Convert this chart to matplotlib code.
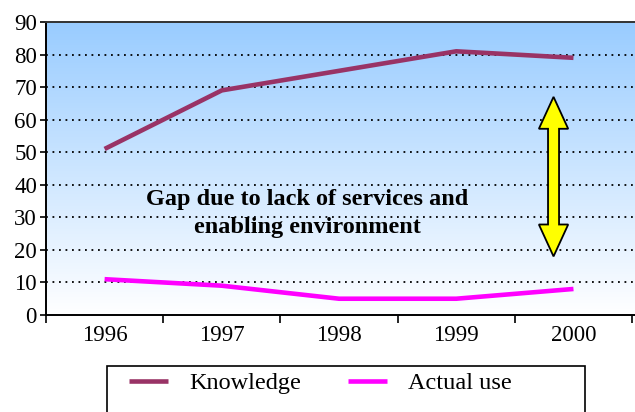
import numpy as np
import matplotlib
matplotlib.use('Agg')
import matplotlib.pyplot as plt
from matplotlib.colors import LinearSegmentedColormap
from matplotlib.patches import Polygon, Rectangle

# Data
years = ['1996', '1997', '1998', '1999', '2000']
knowledge = [51, 69, 75, 81, 79]
actual_use = [11, 9, 5, 5, 8]
y_ticks = list(range(0, 100, 10))

gap_text = 'Gap due to lack of services and\nenabling environment'
arrow_x = 3.83
arrow_top = 67
arrow_bottom = 18

plt.rcParams['font.family'] = ['Liberation Serif', 'DejaVu Serif']
plt.rcParams['font.size'] = 16.5

fig = plt.figure(figsize=(6.35, 4.12), dpi=100)
ax = fig.add_axes([46 / 635, 1 - 315 / 412, 1 - 46 / 635, (315 - 22) / 412])

x = np.arange(len(years))
x_max = 4.525

# Gradient background, blue on top fading to white
cmap = LinearSegmentedColormap.from_list('bg', ['#FFFFFF', '#99CCFF'])
grad = np.linspace(0, 1, 256).reshape(-1, 1)
ax.imshow(grad, extent=(-0.5, x_max, 0, 90), origin='lower', aspect='auto',
          cmap=cmap, zorder=0)

# Dotted gridlines
for yv in y_ticks[1:-1]:
    ax.axhline(yv, color='black', linestyle=(0, (1, 2.6)), linewidth=1.3, zorder=1)

ax.plot(x, knowledge, color='#993366', linewidth=3.3, label='Knowledge', zorder=3,
        solid_capstyle='butt')
ax.plot(x, actual_use, color='#FF00FF', linewidth=3.3, label='Actual use', zorder=3,
        solid_capstyle='butt')

# Double-headed yellow arrow
hw, sw, hl = 0.125, 0.047, 9.8
verts = [
    (arrow_x, arrow_top),
    (arrow_x + hw, arrow_top - hl),
    (arrow_x + sw, arrow_top - hl),
    (arrow_x + sw, arrow_bottom + hl),
    (arrow_x + hw, arrow_bottom + hl),
    (arrow_x, arrow_bottom),
    (arrow_x - hw, arrow_bottom + hl),
    (arrow_x - sw, arrow_bottom + hl),
    (arrow_x - sw, arrow_top - hl),
    (arrow_x - hw, arrow_top - hl),
]
ax.add_patch(Polygon(verts, closed=True, facecolor='#FFFF00', edgecolor='black',
                     linewidth=1.3, zorder=4))

ax.text(1.73, 31.2, gap_text, ha='center', va='center', fontsize=17.5,
        fontweight='bold', linespacing=1.4, zorder=5)

ax.set_xlim(-0.5, x_max)
ax.set_ylim(0, 90)
ax.set_yticks(y_ticks)
ax.set_xticks(x)
ax.set_xticklabels(years)
ax.set_xticks(np.arange(-0.5, 5, 1.0), minor=True)
ax.tick_params(axis='x', which='major', length=0, pad=7)
ax.tick_params(axis='x', which='minor', length=5.5, width=1.2, direction='out')
ax.tick_params(axis='y', length=4.5, width=1.2, direction='out', pad=2)

ax.spines['right'].set_visible(False)
for s in ['left', 'bottom', 'top']:
    ax.spines[s].set_linewidth(1.4)
    ax.spines[s].set_color('black')
ax.spines['top'].set_color('#333333')

# Legend with a box running off the bottom of the figure
frame = Rectangle((107 / 635, -0.2), (585 - 107) / 635, 1.2 - 366 / 412,
                  transform=fig.transFigure, facecolor='white', edgecolor='black',
                  linewidth=1.2, clip_on=False)
fig.patches.append(frame)
fig.legend(loc='center left', bbox_to_anchor=(107 / 635, 1 - 383 / 412), ncol=2,
           frameon=False, handlelength=1.6, handletextpad=0.9, columnspacing=1.9,
           fontsize=17.5)

fig.savefig('out.png', dpi=100)
